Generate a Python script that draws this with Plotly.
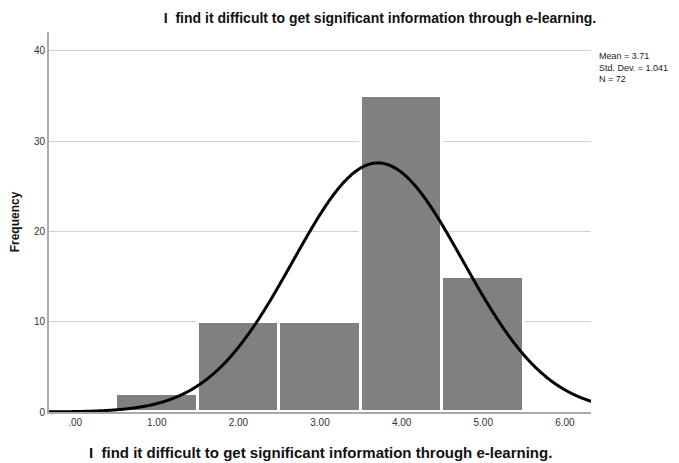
import numpy as np
import plotly.graph_objects as go

# Response categories and counts
categories = [1, 2, 3, 4, 5]
counts = [2, 10, 10, 35, 15]
tick_values = [0, 1, 2, 3, 4, 5, 6]
tick_labels = [".00", "1.00", "2.00", "3.00", "4.00", "5.00", "6.00"]
mean_val = 3.71
std_val = 1.041
n_total = 72

title_text = "I  find it difficult to get significant information through e-learning."

# Normal curve scaled to the histogram (bin width 1)
xs = np.linspace(-0.35, 6.35, 600)
ys = n_total * 1.0 / (std_val * np.sqrt(2 * np.pi)) * np.exp(-0.5 * ((xs - mean_val) / std_val) ** 2)

font_family = "Liberation Sans, Arial, sans-serif"

fig = go.Figure()
fig.add_trace(go.Bar(
    x=categories, y=counts, width=1.0,
    marker=dict(color="#808080", line=dict(color="white", width=3)),
    hoverinfo="x+y",
))
fig.add_trace(go.Scatter(
    x=xs, y=ys, mode="lines",
    line=dict(color="black", width=3, shape="spline"),
    hoverinfo="skip",
))

fig.update_layout(
    width=679, height=463,
    margin=dict(l=49, r=88, t=32, b=51),
    paper_bgcolor="white", plot_bgcolor="white",
    showlegend=False,
    bargap=0,
    font=dict(family=font_family, color="#222222", size=10),
    title=dict(
        text="<b>" + title_text + "</b>",
        x=380 / 679, xanchor="center", xref="container",
        y=1 - 18 / 463, yanchor="middle",
        font=dict(size=14, color="#111111"),
    ),
    xaxis=dict(
        range=[-0.32, 6.32],
        tickmode="array", tickvals=tick_values, ticktext=tick_labels,
        showgrid=False, zeroline=False,
        showline=True, linecolor="#aaaaaa", linewidth=2,
        ticks="", ticklen=0,
        tickfont=dict(size=10, color="#333333"),
        automargin=False,
    ),
    yaxis=dict(
        range=[0, 42.1],
        tickmode="array", tickvals=[0, 10, 20, 30, 40],
        showgrid=True, gridcolor="#d0d0d0", gridwidth=1,
        zeroline=False,
        showline=True, linecolor="#aaaaaa", linewidth=2,
        ticks="", ticklen=0,
        tickfont=dict(size=10, color="#333333"),
        automargin=False,
        title=dict(text="<b>Frequency</b>", font=dict(size=12, color="#111111"), standoff=12),
    ),
)

# x-axis title placed below the tick labels
fig.add_annotation(
    xref="paper", yref="paper",
    x=0.5, y=0, yshift=-40,
    xanchor="center", yanchor="middle",
    text="<b>" + title_text + "</b>",
    showarrow=False,
    font=dict(size=15, color="#111111"),
)

fig.add_annotation(
    xref="paper", yref="paper",
    x=1.0, xshift=6, y=1 - (51 - 32) / (463 - 32 - 51), yshift=2,
    xanchor="left", yanchor="top", align="left",
    text=f"Mean = {mean_val:.2f}<br>Std. Dev. = {std_val:.3f}<br>N = {n_total}",
    showarrow=False,
    font=dict(size=9, color="#222222"),
)

fig.write_html("out.html")
